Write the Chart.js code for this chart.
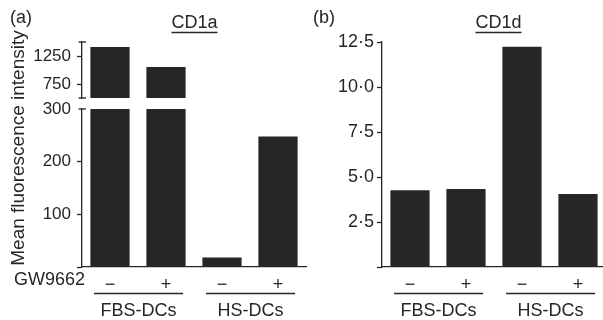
<!DOCTYPE html>
<html lang="en">
<head>
  <meta charset="UTF-8" />
  <title>CD1a / CD1d</title>
  <script src="https://cdn.jsdelivr.net/npm/chart.js"></script>
  <style>
    html, body {
      margin: 0;
      padding: 0;
      background: #ffffff;
      overflow: hidden;
      width: 603px;
      height: 320px;
    }
    canvas {
      position: absolute;
      top: 0;
    }
  </style>
</head>
<body>
  <canvas id="cd1aTop" width="310" height="320" style="left:0"></canvas>
  <canvas id="cd1aLow" width="310" height="320" style="left:0"></canvas>
  <canvas id="cd1d" width="310" height="320" style="left:300px"></canvas>
  <script>
    // values
    const groupNames = ['FBS-DCs', 'HS-DCs'];
    const gwLabels = ['−', '+', '−', '+'];
    const cd1aValues = [1410, 1055, 18, 248];
    const cd1dValues = [4.27, 4.33, 12.24, 4.05];
    const cd1aTopTicks = [500, 750, 1250, 1500];
    const cd1aLowTicks = [0, 100, 200, 300];
    const cd1dTicks = [0, 2.5, 5, 7.5, 10, 12.5];

    const INK = '#262626';
    const FONT = '"Liberation Sans", Arial, sans-serif';

    // text, group brackets and axis caps
    const decor = {
      id: 'decor',
      afterDraw(chart, args, o) {
        const ctx = chart.ctx;
        const x = chart.scales.x;
        const y = chart.scales.y;
        ctx.save();
        ctx.fillStyle = INK;
        ctx.strokeStyle = INK;
        ctx.lineWidth = 1.3;
        ctx.font = '18px ' + FONT;

        (o.caps || []).forEach(v => {
          const py = y.getPixelForValue(v);
          ctx.beginPath();
          ctx.moveTo(chart.chartArea.left - 3.5, py);
          ctx.lineTo(chart.chartArea.left + 4, py);
          ctx.stroke();
        });

        if (o.groups) {
          o.groups.forEach((name, i) => {
            const a = x.getPixelForValue(i * 2) - 16;
            const b = x.getPixelForValue(i * 2 + 1) + 17;
            ctx.beginPath();
            ctx.moveTo(a, 293.5);
            ctx.lineTo(b, 293.5);
            ctx.stroke();
            ctx.textAlign = 'center';
            ctx.textBaseline = 'alphabetic';
            ctx.fillText(name, (a + b) / 2, 316);
          });
        }

        if (o.gw) {
          ctx.textAlign = 'right';
          ctx.textBaseline = 'alphabetic';
          ctx.fillText(o.gw, 85, 285);
        }

        if (o.title) {
          ctx.textAlign = 'center';
          ctx.textBaseline = 'alphabetic';
          ctx.fillText(o.title, o.titleX, 28);
          const w = ctx.measureText(o.title).width;
          ctx.beginPath();
          ctx.moveTo(o.titleX - w / 2, 32.5);
          ctx.lineTo(o.titleX + w / 2, 32.5);
          ctx.stroke();
        }

        if (o.letter) {
          ctx.textAlign = 'left';
          ctx.textBaseline = 'alphabetic';
          ctx.fillText(o.letter, o.letterX, 23);
        }

        if (o.yTitle) {
          ctx.translate(24, 148);
          ctx.rotate(-Math.PI / 2);
          ctx.font = '19px ' + FONT;
          ctx.textAlign = 'center';
          ctx.textBaseline = 'alphabetic';
          ctx.fillText(o.yTitle, 0, 0);
        }
        ctx.restore();
      }
    };

    function barSet(values) {
      return [{
        data: values,
        backgroundColor: INK,
        categoryPercentage: 1,
        barPercentage: 0.7
      }];
    }

    function yAxis(ticks, min, max, caps, showLabel, fmt, size, pad) {
      return {
        type: 'linear',
        min: min,
        max: max,
        afterBuildTicks: s => { s.ticks = ticks.map(v => ({ value: v })); },
        afterFit: s => { s.width = 82; },
        border: { display: true, color: INK, width: 1.3 },
        grid: {
          drawOnChartArea: false,
          drawTicks: true,
          tickLength: 5,
          tickWidth: 1.3,
          tickColor: c => (c.tick && caps.includes(c.tick.value)) ? 'rgba(0,0,0,0)' : INK
        },
        ticks: {
          color: INK,
          padding: pad,
          autoSkip: false,
          font: { family: FONT, size: size },
          callback: v => showLabel(v) ? fmt(v) : ''
        }
      };
    }

    function xAxis() {
      return {
        type: 'category',
        offset: true,
        afterFit: s => { s.height = 53; },
        border: { display: true, color: INK, width: 1.3 },
        grid: { display: false, drawTicks: false },
        ticks: {
          color: INK,
          padding: 7,
          maxRotation: 0,
          font: { family: FONT, size: 18 }
        }
      };
    }

    const base = {
      responsive: false,
      animation: false,
      events: []
    };

    // CD1a upper segment (broken axis)
    new Chart(document.getElementById('cd1aTop'), {
      type: 'bar',
      data: { labels: gwLabels, datasets: barSet(cd1aValues) },
      plugins: [decor],
      options: Object.assign({}, base, {
        layout: { padding: { left: 0, top: 42, right: 4, bottom: 222 } },
        scales: {
          x: { type: 'category', offset: true, display: false },
          y: yAxis(cd1aTopTicks, 500, 1500, [500, 1500], v => v === 750 || v === 1250, v => String(v), 17, 6)
        },
        plugins: {
          legend: { display: false },
          tooltip: { enabled: false },
          decor: { caps: [500, 1500], title: 'CD1a', titleX: 194.5, letter: '(a)', letterX: 10 }
        }
      })
    });

    // CD1a lower segment
    new Chart(document.getElementById('cd1aLow'), {
      type: 'bar',
      data: { labels: gwLabels, datasets: barSet(cd1aValues) },
      plugins: [decor],
      options: Object.assign({}, base, {
        layout: { padding: { left: 0, top: 109, right: 4, bottom: 0 } },
        scales: {
          x: xAxis(),
          y: yAxis(cd1aLowTicks, 0, 300, [300], v => v !== 0, v => String(v), 17, 6)
        },
        plugins: {
          legend: { display: false },
          tooltip: { enabled: false },
          decor: { caps: [300], groups: groupNames, gw: 'GW9662', yTitle: 'Mean fluorescence intensity' }
        }
      })
    });

    // CD1d
    new Chart(document.getElementById('cd1d'), {
      type: 'bar',
      data: { labels: gwLabels, datasets: barSet(cd1dValues) },
      plugins: [decor],
      options: Object.assign({}, base, {
        layout: { padding: { left: 0, top: 42, right: 4, bottom: 0 } },
        scales: {
          x: xAxis(),
          y: yAxis(cd1dTicks, 0, 12.5, [], v => v !== 0, v => v.toFixed(1).replace('.', '·'), 18, 3)
        },
        plugins: {
          legend: { display: false },
          tooltip: { enabled: false },
          decor: { groups: groupNames, title: 'CD1d', titleX: 198.5, letter: '(b)', letterX: 13 }
        }
      })
    });
  </script>
</body>
</html>
